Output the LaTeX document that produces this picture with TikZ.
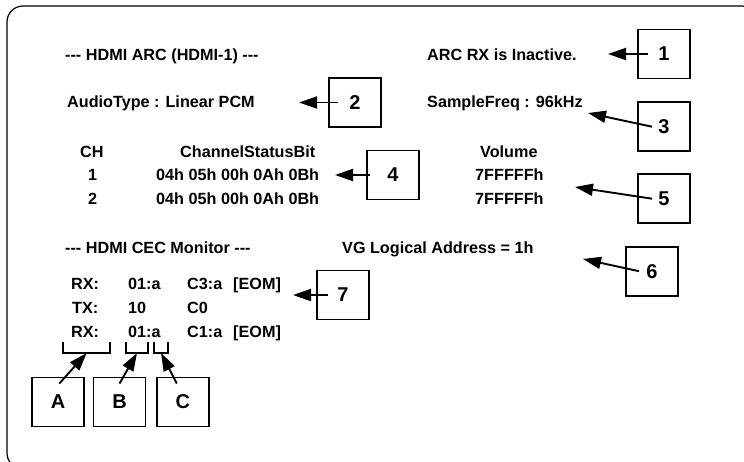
\documentclass[tikz,border=0pt]{standalone}
\usepackage{fontspec}
\setmainfont{Liberation Sans}[Ligatures=TeXOff]
\usetikzlibrary{arrows.meta,calc}
\begin{document}
\begin{tikzpicture}[x=1pt,y=-1pt,
 txt/.style={anchor=base west, inner sep=0pt, font=\fontsize{16.2}{18}\selectfont\bfseries},
 callout/.style={draw, line width=1.9pt, minimum width=52pt, minimum height=49pt, inner sep=0pt, font=\fontsize{20}{22}\selectfont\bfseries},
 arr/.style={line width=1.9pt, -{Triangle[length=18pt,width=12pt]}},
 brk/.style={line width=1.9pt}]
\useasboundingbox (0,0) rectangle (744,461);
\begin{scope}
\clip (0,0) rectangle (744,461);
\draw[line width=1.2pt, rounded corners=16pt] (7,6) rectangle (758,469);
\end{scope}

% texts
\node[txt] (h1) at (65,60) {--- HDMI ARC (HDMI-1) ---};
\node[txt] (arc) at (427,60) {ARC RX is Inactive.};
\node[txt] (aud) at (67,107) {AudioType : Linear PCM};
\node[txt] (sf) at (427,107) {SampleFreq : 96kHz};
\node[txt] (ch) at (80,157) {CH};
\node[txt] (csb) at (180,157) {ChannelStatusBit};
\node[txt] (vol) at (480,157) {Volume};
\node[txt] (r1) at (88,180) {1};
\node[txt] (d1) at (156,180) {04h 05h 00h 0Ah 0Bh};
\node[txt] (v1) at (475,180) {7FFFFFh};
\node[txt] (r2) at (88,204) {2};
\node[txt] (d2) at (156,204) {04h 05h 00h 0Ah 0Bh};
\node[txt] (v2) at (475,204) {7FFFFFh};
\node[txt] (h2) at (65,253) {--- HDMI CEC Monitor ---};
\node[txt] (vg) at (342,253) {VG Logical Address = 1h};
\node[txt] (a1) at (71,289) {RX:};
\node[txt] (b1) at (128,289) {01:a};
\node[txt] (c1) at (187,289) {C3:a};
\node[txt] (e1) at (233,289) {[EOM]};
\node[txt] (a2) at (72,313) {TX:};
\node[txt] (b2) at (128,313) {10};
\node[txt] (c2) at (187,313) {C0};
\node[txt] (a3) at (71,337) {RX:};
\node[txt] (b3) at (128,337) {01:a};
\node[txt] (c3) at (187,337) {C1:a};
\node[txt] (e3) at (233,337) {[EOM]};

% callout boxes
\node[callout] (n1) at (664,54) {1};
\node[callout] (n2) at (355,102.5) {2};
\node[callout] (n3) at (664,126.7) {3};
\node[callout] (n4) at (393,175) {4};
\node[callout] (n5) at (664,198.7) {5};
\node[callout] (n6) at (652,271.2) {6};
\node[callout] (n7) at (343,295) {7};
\node[callout] (nA) at (58,402) {A};
\node[callout] (nB) at (119.5,402) {B};
\node[callout] (nC) at (182.8,402) {C};

% arrow tips
\coordinate (t1) at (608,54);
\coordinate (t2) at (299,102.5);
\coordinate (t3) at (588,113);
\coordinate (t4) at (335,175);
\coordinate (t5) at (575,187);
\coordinate (t6) at (583,259);
\coordinate (t7) at (293,295);
\coordinate (tA) at (86.7,353);
\coordinate (tB) at (137,353);
\coordinate (tC) at (161,353);

% brackets
\draw[brk] (63.3,342) -- (63.3,353) -- (110,353) -- (110,342);
\draw[brk] (126,342) -- (126,353) -- (147.7,353) -- (147.7,342);
\draw[brk] (154.3,342) -- (154.3,353) -- (167.7,353) -- (167.7,342);

% arrows
\draw[arr] ($(n1.center)+(-16,0)$) -- (t1);
\draw[arr] ($(n2.center)+(-17,0)$) -- (t2);
\draw[arr] ($(n3.center)+(-12,0)$) -- (t3);
\draw[arr] ($(n4.center)+(-23,0)$) -- (t4);
\draw[arr] ($(n5.center)+(-12,0)$) -- (t5);
\draw[arr] ($(n6.center)+(-13,0)$) -- (t6);
\draw[arr] ($(n7.center)+(-15,0)$) -- (t7);
\draw[arr] ($(nA.north)+(1.3,7)$) -- (tA);
\draw[arr] ($(nB.north)+(0,7)$) -- (tB);
\draw[arr] ($(nC.north)+(-6,7)$) -- (tC);
\end{tikzpicture}
\end{document}
